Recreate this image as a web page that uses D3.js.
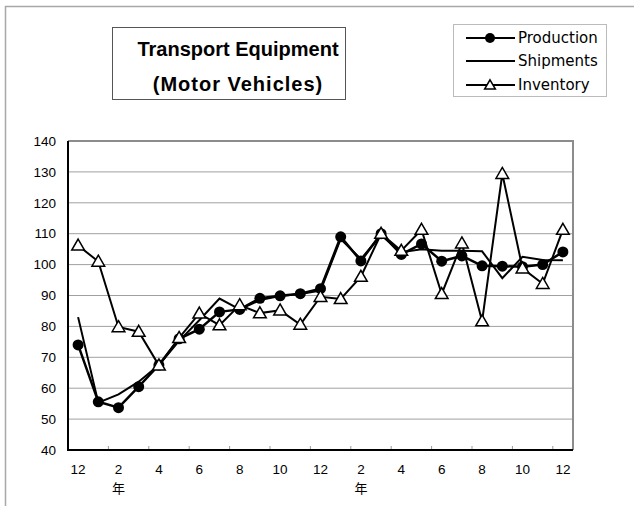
<!DOCTYPE html>
<html>
<head>
<meta charset="utf-8">
<script src="https://cdn.jsdelivr.net/npm/d3@7"></script>
<style>
  body { margin: 0; background: #fff; }
  svg { display: block; font-family: "Liberation Sans", Arial, sans-serif; }
</style>
</head>
<body>
<svg width="634" height="506"></svg>
<script>
// month labels, one per data point (Dec of prior year, then two full years)
var months = ["12","1","2","3","4","5","6","7","8","9","10","11","12",
              "1","2","3","4","5","6","7","8","9","10","11","12"];
var yearLabelAt = [2, 14]; // indices that carry the "年" sub label
var yTicks = [40, 50, 60, 70, 80, 90, 100, 110, 120, 130, 140];

var production = [74, 55.6, 53.7, 60.5, 67.5, 76, 79.1, 84.7, 85.5, 89.1, 89.9, 90.6, 92.2,
                  109, 101.2, 110, 103.3, 106.7, 101.1, 102.8, 99.6, 99.5, 99.3, 100, 104.1];
var shipments  = [83, 55.3, 58, 62.1, 67.5, 75.3, 82, 89, 85.5, 88.5, 89.8, 90.5, 91.6,
                  108.3, 101.8, 109.5, 104, 105, 104.5, 104.5, 104.3, 95.6, 102.5, 101.5, 101.4];
var inventory  = [106.2, 101, 79.8, 78.3, 67.4, 76.3, 84.2, 80.4, 86.9, 84.3, 85.2, 80.6, 89.6,
                  88.9, 96.1, 110, 104.5, 111.3, 90.5, 106.9, 81.7, 129.4, 98.8, 93.8, 111.3];

var svg = d3.select("svg");

// outer chart frame (only top and left edges visible)
svg.append("path")
    .attr("d", "M5.5,506 V6.5 H634")
    .attr("fill", "none")
    .attr("stroke", "#a8a8a8")
    .attr("stroke-width", 1.5);

var plotL = 68, plotR = 573, plotT = 141, plotB = 450;

var x = d3.scaleBand()
    .domain(d3.range(months.length))
    .range([plotL, plotR]);

var y = d3.scaleLinear()
    .domain([40, 140])
    .range([plotB, plotT]);

var g = svg.append("g");

// gridlines
g.selectAll(".grid")
    .data(yTicks.slice(1, -1))
    .enter().append("line")
    .attr("x1", plotL).attr("x2", plotR)
    .attr("y1", function(d) { return y(d); })
    .attr("y2", function(d) { return y(d); })
    .attr("stroke", "#a0a0a0")
    .attr("stroke-width", 1);

// top and right frame of plot area
g.append("path")
    .attr("d", "M" + plotL + "," + plotT + " H" + plotR + " V" + plotB)
    .attr("fill", "none")
    .attr("stroke", "#8c8c8c")
    .attr("stroke-width", 2);

// x tick marks between month pairs
g.selectAll(".xtick")
    .data(d3.range(2, months.length, 2))
    .enter().append("line")
    .attr("x1", function(d) { return x(d); })
    .attr("x2", function(d) { return x(d); })
    .attr("y1", plotB).attr("y2", plotB - 4)
    .attr("stroke", "#999");

// axes
g.append("path")
    .attr("d", "M" + plotL + "," + plotT + " V" + plotB + " H" + plotR)
    .attr("fill", "none")
    .attr("stroke", "#000")
    .attr("stroke-width", 2);

// y labels
g.selectAll(".ylab")
    .data(yTicks)
    .enter().append("text")
    .attr("x", 56)
    .attr("y", function(d) { return y(d); })
    .attr("dy", "0.35em")
    .attr("text-anchor", "end")
    .attr("font-size", 13.5)
    .text(function(d) { return d; });

// x labels, every other month
g.selectAll(".xlab")
    .data(d3.range(0, months.length, 2))
    .enter().append("text")
    .attr("x", function(d) { return x(d) + x.bandwidth() / 2; })
    .attr("y", 469)
    .attr("dy", "0.35em")
    .attr("text-anchor", "middle")
    .attr("font-size", 13.5)
    .text(function(d) { return months[d]; });

g.selectAll(".yearlab")
    .data(yearLabelAt)
    .enter().append("text")
    .attr("x", function(d) { return x(d) + x.bandwidth() / 2; })
    .attr("y", 488)
    .attr("dy", "0.35em")
    .attr("text-anchor", "middle")
    .attr("font-size", 13)
    .attr("font-family", "'Noto Sans CJK JP', sans-serif")
    .text("年");

var cx = function(d, i) { return x(i) + x.bandwidth() / 2; };
var line = d3.line().x(cx).y(function(d) { return y(d); });

// shipments (no markers)
g.append("path")
    .datum(shipments)
    .attr("d", line)
    .attr("fill", "none")
    .attr("stroke", "#000")
    .attr("stroke-width", 2);

// production
g.append("path")
    .datum(production)
    .attr("d", line)
    .attr("fill", "none")
    .attr("stroke", "#000")
    .attr("stroke-width", 2.5);

g.selectAll(".pdot")
    .data(production)
    .enter().append("circle")
    .attr("cx", cx)
    .attr("cy", function(d) { return y(d); })
    .attr("r", 5.5)
    .attr("fill", "#000");

// inventory
g.append("path")
    .datum(inventory)
    .attr("d", line)
    .attr("fill", "none")
    .attr("stroke", "#000")
    .attr("stroke-width", 2);

var tri = d3.symbol().type(d3.symbolTriangle).size(70);

g.selectAll(".itri")
    .data(inventory)
    .enter().append("path")
    .attr("d", tri)
    .attr("transform", function(d, i) { return "translate(" + cx(d, i) + "," + (y(d) + 1) + ")"; })
    .attr("fill", "#fff")
    .attr("stroke", "#000")
    .attr("stroke-width", 1.5);

// title box
svg.append("rect")
    .attr("x", 112.5).attr("y", 27.5)
    .attr("width", 233).attr("height", 72)
    .attr("fill", "#fff")
    .attr("stroke", "#555");

svg.selectAll(".title")
    .data(["Transport Equipment", "(Motor Vehicles)"])
    .enter().append("text")
    .attr("x", 238)
    .attr("y", function(d, i) { return 49 + i * 35; })
    .attr("dy", "0.35em")
    .attr("text-anchor", "middle")
    .attr("font-size", 20)
    .attr("font-weight", "bold")
    .attr("letter-spacing", function(d, i) { return i ? 1 : 0; })
    .text(function(d) { return d; });

// legend
var legend = svg.append("g");
legend.append("rect")
    .attr("x", 453.5).attr("y", 24.5)
    .attr("width", 153).attr("height", 72)
    .attr("fill", "#fff")
    .attr("stroke", "#bbb");

var legendItems = ["Production", "Shipments", "Inventory"];
var legendY = d3.scaleOrdinal().domain(legendItems).range([38, 61, 85]);

legendItems.forEach(function(name) {
    var ly = legendY(name);
    legend.append("line")
        .attr("x1", 466).attr("x2", 515)
        .attr("y1", ly).attr("y2", ly)
        .attr("stroke", "#000")
        .attr("stroke-width", 2);
    if (name == "Production") {
        legend.append("circle")
            .attr("cx", 490).attr("cy", ly).attr("r", 5)
            .attr("fill", "#000");
    } else if (name == "Inventory") {
        legend.append("path")
            .attr("d", d3.symbol().type(d3.symbolTriangle).size(50))
            .attr("transform", "translate(490," + (ly + 1) + ")")
            .attr("fill", "#fff")
            .attr("stroke", "#000")
            .attr("stroke-width", 1.5);
    }
    legend.append("text")
        .attr("x", 518)
        .attr("y", ly)
        .attr("dy", "0.35em")
        .attr("font-size", 15)
        .attr("font-family", "'DejaVu Sans', sans-serif")
        .text(name);
});
</script>
</body>
</html>
